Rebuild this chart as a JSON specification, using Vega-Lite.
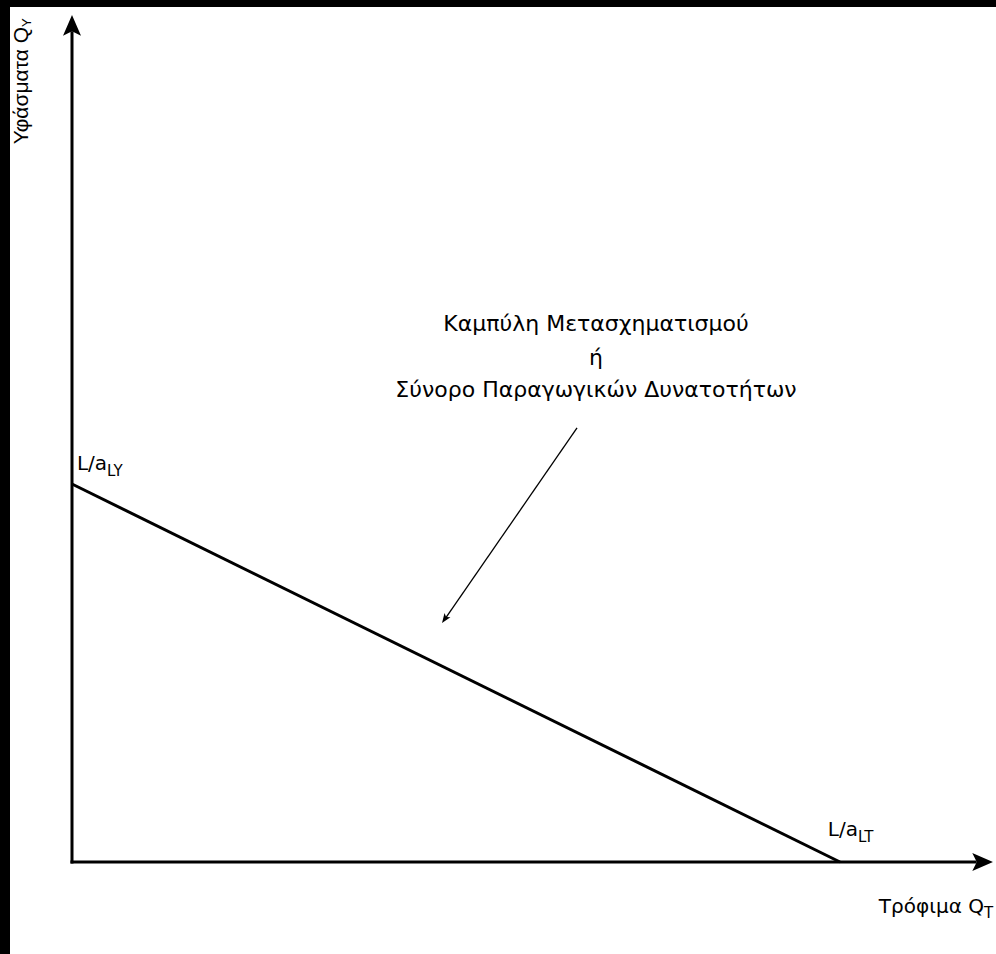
{
  "$schema": "https://vega.github.io/schema/vega-lite/v6.json",
  "width": 986,
  "height": 947,
  "autosize": "none",
  "padding": {"left": 10, "top": 7, "right": 0, "bottom": 0},
  "background": "black",
  "config": {"view": {"fill": "white", "stroke": null}},
  "datasets": {
    "axes": [
      {"x": 0, "y": -0.02, "x2": 0, "y2": 10.99},
      {"x": -0.02, "y": 0, "x2": 11.78, "y2": 0}
    ],
    "ppf": [{"x": 0, "y": 5, "x2": 10, "y2": 0}],
    "pointer": [{"x": 6.576, "y": 5.741, "x2": 4.86, "y2": 3.22}],
    "tipY": [{"x": 0, "y": 11.204}],
    "tipX": [{"x": 11.992, "y": 0}],
    "tipP": [{"x": 4.818, "y": 3.161}],
    "labels": [
      {"x": 0.456, "y": 5.185, "text": "L/a"},
      {"x": 10.234, "y": 0.344, "text": "L/a"},
      {"x": 11.875, "y": -0.675, "text": "Τρόφιμα Q"}
    ],
    "subs": [
      {"x": 0.456, "y": 5.106, "text": "LY"},
      {"x": 10.234, "y": 0.265, "text": "LT"},
      {"x": 11.875, "y": -0.741, "text": "T"}
    ],
    "ytitle": [{"x": -0.651, "y": 11.045, "text": "Υφάσματα Q"}],
    "ytitleSub": [{"x": -0.586, "y": 11.045, "text": "Y"}],
    "note": [
      {"x": 6.823, "y": 7.024, "text": "Καμπύλη Μετασχηματισμού"},
      {"x": 6.823, "y": 6.574, "text": "ή"},
      {"x": 6.823, "y": 6.151, "text": "Σύνορο Παραγωγικών Δυνατοτήτων"}
    ]
  },
  "layer": [
    {
      "data": {"name": "axes"},
      "mark": {"type": "rule", "color": "black", "strokeWidth": 3},
      "encoding": {
        "x": {"field": "x", "type": "quantitative", "scale": {"domain": [-0.8073, 12.0313], "nice": false, "zero": false}, "axis": null},
        "y": {"field": "y", "type": "quantitative", "scale": {"domain": [-1.2169, 11.3095], "nice": false, "zero": false}, "axis": null},
        "x2": {"field": "x2"},
        "y2": {"field": "y2"}
      }
    },
    {
      "data": {"name": "ppf"},
      "mark": {"type": "rule", "color": "black", "strokeWidth": 3},
      "encoding": {
        "x": {"field": "x", "type": "quantitative", "scale": {"domain": [-0.8073, 12.0313], "nice": false, "zero": false}, "axis": null},
        "y": {"field": "y", "type": "quantitative", "scale": {"domain": [-1.2169, 11.3095], "nice": false, "zero": false}, "axis": null},
        "x2": {"field": "x2"},
        "y2": {"field": "y2"}
      }
    },
    {
      "data": {"name": "pointer"},
      "mark": {"type": "rule", "color": "black", "strokeWidth": 1.3},
      "encoding": {
        "x": {"field": "x", "type": "quantitative", "scale": {"domain": [-0.8073, 12.0313], "nice": false, "zero": false}, "axis": null},
        "y": {"field": "y", "type": "quantitative", "scale": {"domain": [-1.2169, 11.3095], "nice": false, "zero": false}, "axis": null},
        "x2": {"field": "x2"},
        "y2": {"field": "y2"}
      }
    },
    {
      "data": {"name": "tipY"},
      "mark": {"type": "point", "shape": "M0,0 L1,2.3 L0,1.8 L-1,2.3 Z", "filled": true, "size": 324, "angle": 0, "color": "black", "opacity": 1, "strokeWidth": 0},
      "encoding": {
        "x": {"field": "x", "type": "quantitative", "scale": {"domain": [-0.8073, 12.0313], "nice": false, "zero": false}, "axis": null},
        "y": {"field": "y", "type": "quantitative", "scale": {"domain": [-1.2169, 11.3095], "nice": false, "zero": false}, "axis": null}
      }
    },
    {
      "data": {"name": "tipX"},
      "mark": {"type": "point", "shape": "M0,0 L1,2.3 L0,1.8 L-1,2.3 Z", "filled": true, "size": 324, "angle": 90, "color": "black", "opacity": 1, "strokeWidth": 0},
      "encoding": {
        "x": {"field": "x", "type": "quantitative", "scale": {"domain": [-0.8073, 12.0313], "nice": false, "zero": false}, "axis": null},
        "y": {"field": "y", "type": "quantitative", "scale": {"domain": [-1.2169, 11.3095], "nice": false, "zero": false}, "axis": null}
      }
    },
    {
      "data": {"name": "tipP"},
      "mark": {"type": "point", "shape": "M0,0 L0.6,1.6 L0,1.2 L-0.6,1.6 Z", "filled": true, "size": 144, "angle": 214.7, "color": "black", "opacity": 1, "strokeWidth": 0},
      "encoding": {
        "x": {"field": "x", "type": "quantitative", "scale": {"domain": [-0.8073, 12.0313], "nice": false, "zero": false}, "axis": null},
        "y": {"field": "y", "type": "quantitative", "scale": {"domain": [-1.2169, 11.3095], "nice": false, "zero": false}, "axis": null}
      }
    },
    {
      "data": {"name": "labels"},
      "mark": {"type": "text", "font": "DejaVu Sans", "fontSize": 20, "align": "right", "baseline": "alphabetic", "color": "black"},
      "encoding": {
        "x": {"field": "x", "type": "quantitative", "scale": {"domain": [-0.8073, 12.0313], "nice": false, "zero": false}, "axis": null},
        "y": {"field": "y", "type": "quantitative", "scale": {"domain": [-1.2169, 11.3095], "nice": false, "zero": false}, "axis": null},
        "text": {"field": "text"}
      }
    },
    {
      "data": {"name": "subs"},
      "mark": {"type": "text", "font": "DejaVu Sans", "fontSize": 15, "align": "left", "baseline": "alphabetic", "color": "black"},
      "encoding": {
        "x": {"field": "x", "type": "quantitative", "scale": {"domain": [-0.8073, 12.0313], "nice": false, "zero": false}, "axis": null},
        "y": {"field": "y", "type": "quantitative", "scale": {"domain": [-1.2169, 11.3095], "nice": false, "zero": false}, "axis": null},
        "text": {"field": "text"}
      }
    },
    {
      "data": {"name": "ytitle"},
      "mark": {"type": "text", "font": "Liberation Sans", "fontSize": 21, "align": "right", "baseline": "middle", "angle": 270, "color": "black"},
      "encoding": {
        "x": {"field": "x", "type": "quantitative", "scale": {"domain": [-0.8073, 12.0313], "nice": false, "zero": false}, "axis": null},
        "y": {"field": "y", "type": "quantitative", "scale": {"domain": [-1.2169, 11.3095], "nice": false, "zero": false}, "axis": null},
        "text": {"field": "text"}
      }
    },
    {
      "data": {"name": "ytitleSub"},
      "mark": {"type": "text", "font": "Liberation Sans", "fontSize": 13, "align": "left", "baseline": "middle", "angle": 270, "color": "black"},
      "encoding": {
        "x": {"field": "x", "type": "quantitative", "scale": {"domain": [-0.8073, 12.0313], "nice": false, "zero": false}, "axis": null},
        "y": {"field": "y", "type": "quantitative", "scale": {"domain": [-1.2169, 11.3095], "nice": false, "zero": false}, "axis": null},
        "text": {"field": "text"}
      }
    },
    {
      "data": {"name": "note"},
      "mark": {"type": "text", "font": "DejaVu Sans", "fontSize": 22, "align": "center", "baseline": "alphabetic", "color": "black"},
      "encoding": {
        "x": {"field": "x", "type": "quantitative", "scale": {"domain": [-0.8073, 12.0313], "nice": false, "zero": false}, "axis": null},
        "y": {"field": "y", "type": "quantitative", "scale": {"domain": [-1.2169, 11.3095], "nice": false, "zero": false}, "axis": null},
        "text": {"field": "text"}
      }
    }
  ]
}
